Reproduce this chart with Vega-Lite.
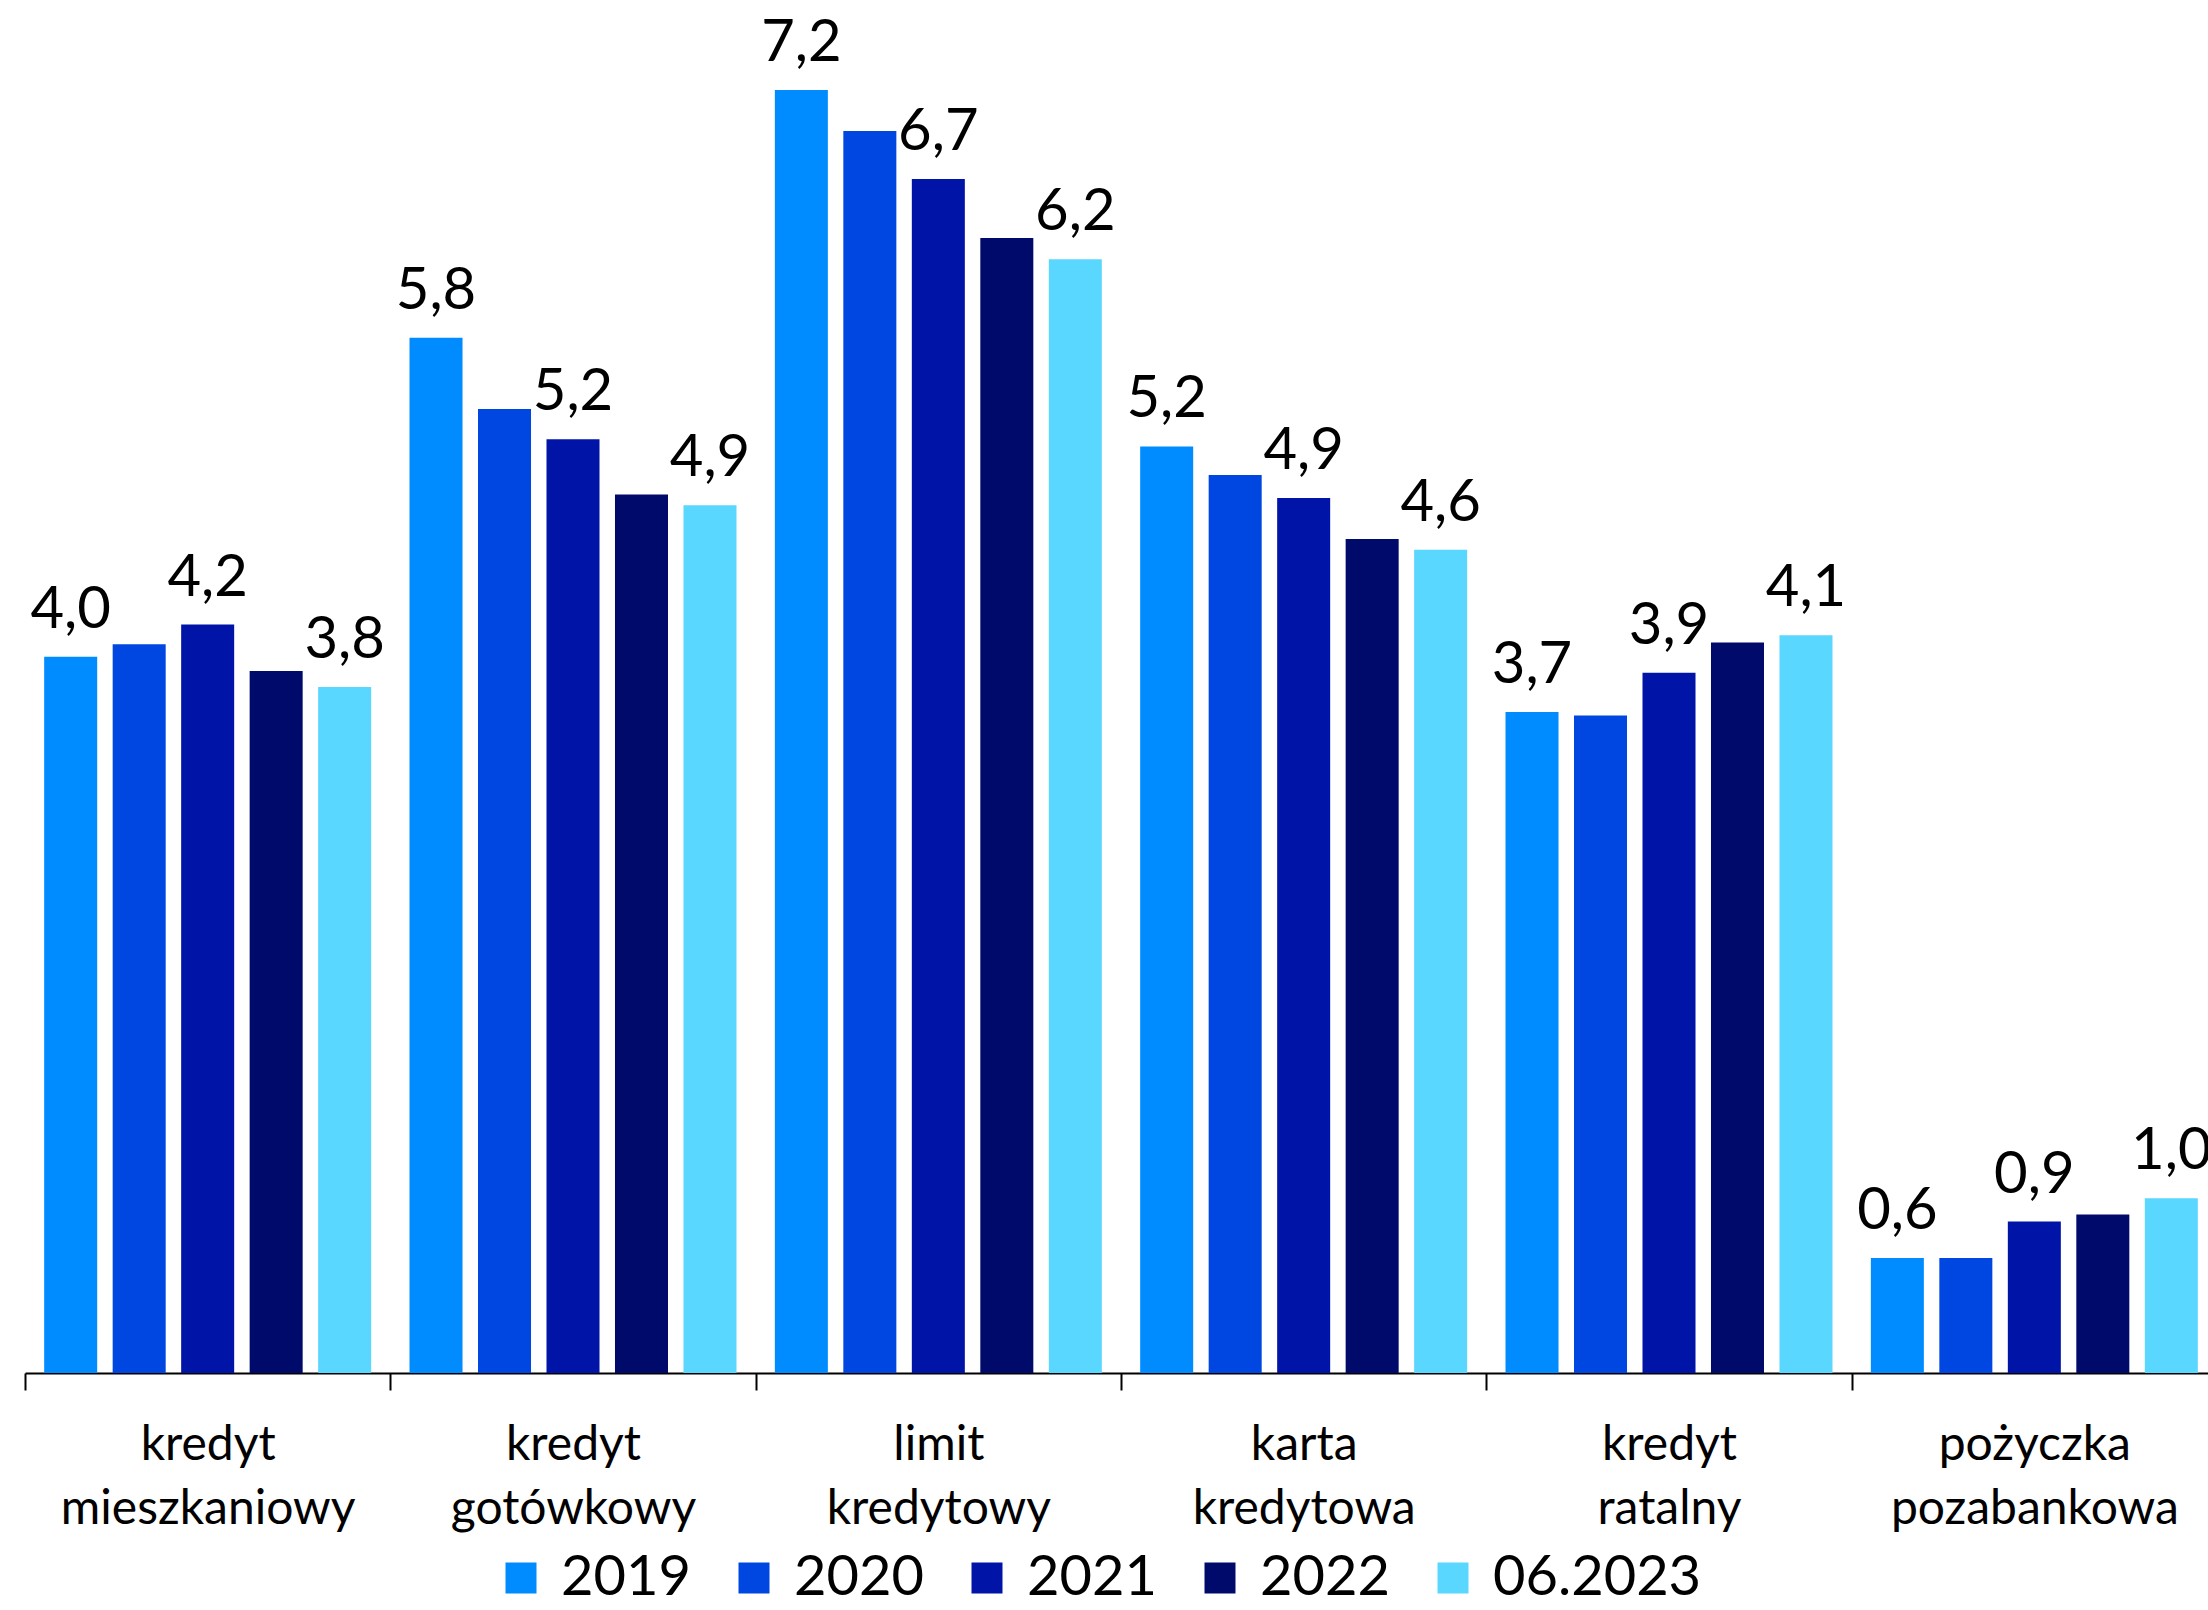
{
  "$schema": "https://vega.github.io/schema/vega-lite/v6.json",
  "width": 2183,
  "height": 1373,
  "autosize": {"type": "none"},
  "padding": {"left": 25, "top": 0, "right": 0, "bottom": 237},
  "background": "#ffffff",
  "config": {"view": {"stroke": null}, "font": "Lato"},
  "data": {
    "values": [
      {"kategoria": "kredyt mieszkaniowy", "okres": "2019", "wartosc": 4.02, "etykieta": "4,0"},
      {"kategoria": "kredyt mieszkaniowy", "okres": "2020", "wartosc": 4.09, "etykieta": ""},
      {"kategoria": "kredyt mieszkaniowy", "okres": "2021", "wartosc": 4.2, "etykieta": "4,2"},
      {"kategoria": "kredyt mieszkaniowy", "okres": "2022", "wartosc": 3.94, "etykieta": ""},
      {"kategoria": "kredyt mieszkaniowy", "okres": "06.2023", "wartosc": 3.85, "etykieta": "3,8"},
      {"kategoria": "kredyt gotówkowy", "okres": "2019", "wartosc": 5.81, "etykieta": "5,8"},
      {"kategoria": "kredyt gotówkowy", "okres": "2020", "wartosc": 5.41, "etykieta": ""},
      {"kategoria": "kredyt gotówkowy", "okres": "2021", "wartosc": 5.24, "etykieta": "5,2"},
      {"kategoria": "kredyt gotówkowy", "okres": "2022", "wartosc": 4.93, "etykieta": ""},
      {"kategoria": "kredyt gotówkowy", "okres": "06.2023", "wartosc": 4.87, "etykieta": "4,9"},
      {"kategoria": "limit kredytowy", "okres": "2019", "wartosc": 7.2, "etykieta": "7,2"},
      {"kategoria": "limit kredytowy", "okres": "2020", "wartosc": 6.97, "etykieta": ""},
      {"kategoria": "limit kredytowy", "okres": "2021", "wartosc": 6.7, "etykieta": "6,7"},
      {"kategoria": "limit kredytowy", "okres": "2022", "wartosc": 6.37, "etykieta": ""},
      {"kategoria": "limit kredytowy", "okres": "06.2023", "wartosc": 6.25, "etykieta": "6,2"},
      {"kategoria": "karta kredytowa", "okres": "2019", "wartosc": 5.2, "etykieta": "5,2"},
      {"kategoria": "karta kredytowa", "okres": "2020", "wartosc": 5.04, "etykieta": ""},
      {"kategoria": "karta kredytowa", "okres": "2021", "wartosc": 4.91, "etykieta": "4,9"},
      {"kategoria": "karta kredytowa", "okres": "2022", "wartosc": 4.68, "etykieta": ""},
      {"kategoria": "karta kredytowa", "okres": "06.2023", "wartosc": 4.62, "etykieta": "4,6"},
      {"kategoria": "kredyt ratalny", "okres": "2019", "wartosc": 3.71, "etykieta": "3,7"},
      {"kategoria": "kredyt ratalny", "okres": "2020", "wartosc": 3.69, "etykieta": ""},
      {"kategoria": "kredyt ratalny", "okres": "2021", "wartosc": 3.93, "etykieta": "3,9"},
      {"kategoria": "kredyt ratalny", "okres": "2022", "wartosc": 4.1, "etykieta": ""},
      {"kategoria": "kredyt ratalny", "okres": "06.2023", "wartosc": 4.14, "etykieta": "4,1"},
      {"kategoria": "pożyczka pozabankowa", "okres": "2019", "wartosc": 0.645, "etykieta": "0,6"},
      {"kategoria": "pożyczka pozabankowa", "okres": "2020", "wartosc": 0.645, "etykieta": ""},
      {"kategoria": "pożyczka pozabankowa", "okres": "2021", "wartosc": 0.85, "etykieta": "0,9"},
      {"kategoria": "pożyczka pozabankowa", "okres": "2022", "wartosc": 0.89, "etykieta": ""},
      {"kategoria": "pożyczka pozabankowa", "okres": "06.2023", "wartosc": 0.98, "etykieta": "1,0"}
    ]
  },
  "encoding": {
    "x": {
      "field": "kategoria",
      "type": "nominal",
      "sort": null,
      "scale": {"range": [0, 2192], "paddingInner": 0, "paddingOuter": 0},
      "axis": {
        "title": null,
        "labelExpr": "split(datum.label, ' ')",
        "labelAngle": 0,
        "labelFont": "Lato",
        "labelFontSize": 48,
        "labelLineHeight": 64,
        "labelLimit": 0,
        "labelOverlap": false,
        "labelColor": "#000000",
        "labelPadding": 31,
        "tickBand": "extent",
        "tickSize": 17,
        "tickColor": "#000000",
        "tickWidth": 2,
        "domainColor": "#000000",
        "domainWidth": 2,
        "grid": false
      }
    },
    "xOffset": {
      "field": "okres",
      "type": "nominal",
      "sort": ["2019", "2020", "2021", "2022", "06.2023"],
      "scale": {"paddingInner": 0.226, "paddingOuter": 0.28}
    },
    "y": {
      "field": "wartosc",
      "type": "quantitative",
      "scale": {"domain": [0, 7.705], "nice": false, "zero": true},
      "axis": null
    }
  },
  "layer": [
    {
      "mark": {"type": "bar"},
      "encoding": {
        "color": {
          "field": "okres",
          "type": "nominal",
          "sort": ["2019", "2020", "2021", "2022", "06.2023"],
          "scale": {
            "domain": ["2019", "2020", "2021", "2022", "06.2023"],
            "range": ["#008BFF", "#0046E0", "#0014A8", "#000A6B", "#5AD7FF"]
          },
          "legend": {
            "orient": "none",
            "legendX": 468,
            "legendY": 1550,
            "direction": "horizontal",
            "title": null,
            "symbolType": "square",
            "symbolSize": 961,
            "symbolStrokeWidth": 0,
            "symbolOpacity": 1,
            "labelFont": "Lato",
            "labelFontSize": 56,
            "labelColor": "#000000",
            "labelOffset": 12,
            "columnPadding": 35,
            "padding": 0,
            "labelLimit": 400
          }
        }
      }
    },
    {
      "mark": {"type": "text", "dy": -29, "baseline": "alphabetic", "align": "center", "font": "Lato", "fontSize": 58, "color": "#000000"},
      "encoding": {"text": {"field": "etykieta", "type": "nominal"}}
    }
  ]
}
